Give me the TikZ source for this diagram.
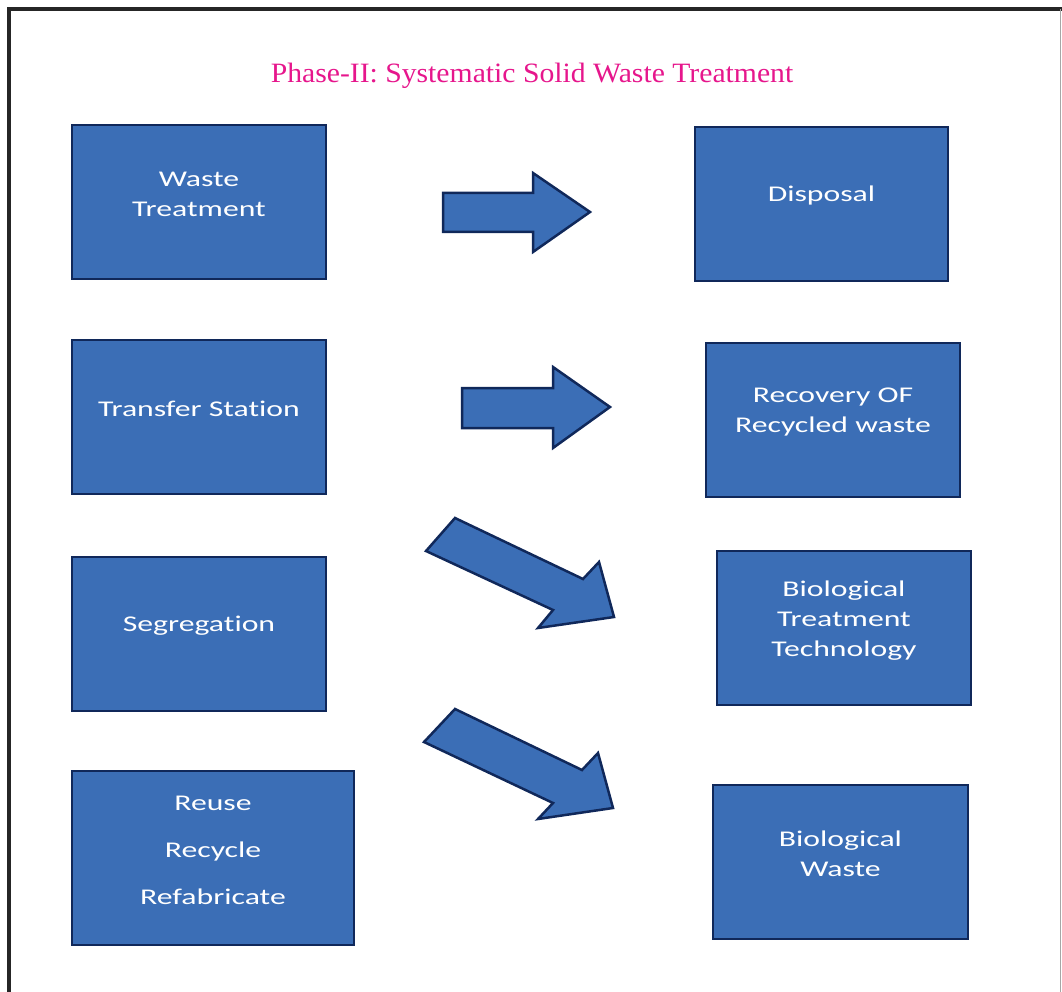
\documentclass[tikz,border=0pt]{standalone}
\usepackage{fontspec}
\setmainfont{Liberation Serif}
\newfontfamily\boxfont[FakeStretch=1.41,Ligatures=NoCommon]{Carlito}
\newfontfamily\titlefont[FakeStretch=1.06]{Liberation Serif}
\definecolor{boxblue}{RGB}{59,110,182}
\definecolor{boxedge}{RGB}{16,40,90}
\definecolor{titlepink}{RGB}{230,22,140}
\tikzset{
  box/.style={draw=boxedge, line width=2.5pt, fill=boxblue, inner sep=0pt},
  lbl/.style={text=white, align=center, font=\boxfont\fontsize{22.5}{30}\selectfont},
  blockarrow/.style={draw=boxedge, line width=2.5pt, fill=boxblue, line join=miter},
}
\begin{document}
\begin{tikzpicture}[x=1pt,y=-1pt]
\useasboundingbox (0,0) rectangle (1062,992);
% frame
\draw[line width=4pt, black!85] (9,992) -- (9,9) -- (1062,9);
\draw[line width=1pt, gray!70] (1060,9) -- (1060,992);
% title
\node[anchor=base, text=titlepink, font=\titlefont\fontsize{28}{32}\selectfont] (title) at (532,83) {Phase-II: Systematic Solid Waste Treatment};
% boxes
\node[box, minimum width=254pt, minimum height=154pt] (b1) at (199,202) {};
\node[box, minimum width=254pt, minimum height=154pt] (b2) at (199,417) {};
\node[box, minimum width=254pt, minimum height=154pt] (b3) at (199,634) {};
\node[box, minimum width=282pt, minimum height=174pt] (b4) at (213,858) {};
\node[box, minimum width=253pt, minimum height=154pt] (b5) at (821.5,204) {};
\node[box, minimum width=254pt, minimum height=154pt] (b6) at (833,420) {};
\node[box, minimum width=254pt, minimum height=154pt] (b7) at (844,628) {};
\node[box, minimum width=255pt, minimum height=154pt] (b8) at (840.5,862) {};
% labels
\node[lbl] (t1) at ([yshift=8pt]b1.center) {Waste\\Treatment};
\node[lbl] (t2) at ([yshift=8pt]b2.center) {Transfer Station};
\node[lbl] (t3) at ([yshift=8pt]b3.center) {Segregation};
\node[lbl, font=\boxfont\fontsize{22.5}{47}\selectfont] (t4) at ([yshift=8pt]b4.center) {Reuse\\Recycle\\Refabricate};
\node[lbl] (t5) at ([yshift=8pt]b5.center) {Disposal};
\node[lbl] (t6) at ([yshift=8pt]b6.center) {Recovery OF\\Recycled waste};
\node[lbl] (t7) at ([yshift=7pt]b7.center) {Biological\\Treatment\\Technology};
\node[lbl] (t8) at ([yshift=8pt]b8.center) {Biological\\Waste};
% block arrows
\draw[blockarrow] (443,193) -- (533,193) -- (533,173) -- (590,212) -- (533,252) -- (533,232) -- (443,232) -- cycle;
\draw[blockarrow] (462,388) -- (553,388) -- (553,367) -- (610,407) -- (553,448) -- (553,428) -- (462,428) -- cycle;
\draw[blockarrow] (455,518) -- (583,579) -- (599,562) -- (614,617) -- (538,628) -- (553,610) -- (426,551) -- cycle;
\draw[blockarrow] (455,709) -- (582,770) -- (598,753) -- (613,808) -- (538,819) -- (553,803) -- (424,742) -- cycle;
\end{tikzpicture}
\end{document}
